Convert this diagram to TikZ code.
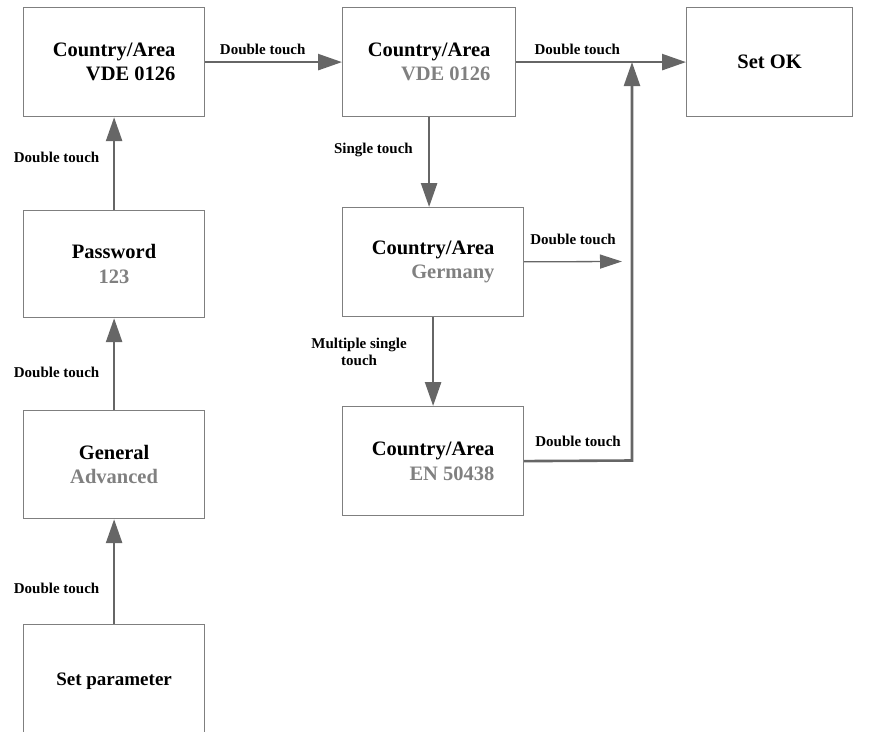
\documentclass[tikz,border=0pt]{standalone}
\usepackage{fontspec}
\setmainfont{Liberation Serif}[BoldFont={Liberation Serif Bold}]
\usepackage{xcolor}
\definecolor{cLine}{HTML}{666666}
\definecolor{cFrame}{HTML}{7F7F7F}
\definecolor{cValue}{HTML}{808080}
\usepackage{tikz}
\usetikzlibrary{positioning,arrows.meta}
\tikzset{
  node-box/.style={draw=cFrame,line width=1.2pt,minimum width=181pt,
    minimum height=109pt,inner sep=0pt,anchor=north west,
    font=\fontsize{20.5}{24.5}\selectfont\bfseries},
  node-label/.style={font=\fontsize{15}{17}\selectfont\bfseries,inner sep=1pt},
  arrow/.style={-{Triangle[length=24pt,width=16pt]},line width=2.6pt,draw=cLine},
  arrow-thin/.style={-{Triangle[length=22pt,width=14pt]},line width=1.3pt,draw=cLine},
}
\newcommand{\valtext}[1]{\textcolor{cValue}{#1}}

\begin{document}
\begin{tikzpicture}[x=1pt,y=-1pt]
  \useasboundingbox (0,0) rectangle (875,731);
  % left column
  \node[node-box,align=right] (vdeA) at (23,7) {Country/Area\\VDE 0126};
  \node[node-box,align=center,minimum height=107pt] (pass) at (23,210) {Password\\\valtext{123}};
  \node[node-box,align=center,minimum height=108pt] (general) at (23,410) {General\\\valtext{Advanced}};
  \node[node-box,minimum height=114pt,font=\fontsize{19}{23}\selectfont\bfseries] (setpar) at (23,624) {Set parameter};
  % middle column
  \node[node-box,align=right,minimum width=173pt] (vdeB) at (342,7) {Country/Area\\\valtext{VDE 0126}};
  \node[node-box,align=right] (germany) at (342,207) {Country/Area\\\valtext{Germany}};
  \node[node-box,align=right] (enA) at (342,406) {Country/Area\\\valtext{EN 50438}};
  \node[node-box,minimum width=166pt] (setok) at (686,7) {Set OK};
  \coordinate (jD) at (622,261.5);
  \coordinate (jE) at (632,460.5);

  \draw[arrow] (setpar) -- node[node-label,left=12.5pt,pos=0.34]{Double touch} (general);
  \draw[arrow] (general) -- node[node-label,left=12.5pt,pos=0.41]{Double touch} (pass);
  \draw[arrow] (pass) -- node[node-label,left=12.5pt,pos=0.57]{Double touch} (vdeA);
  \draw[arrow] (vdeA) -- node[node-label,above=5pt,pos=0.42]{Double touch} (vdeB);
  \draw[arrow] (vdeB) -- node[node-label,above=5pt,pos=0.36]{Double touch} (setok);
  \draw[arrow] (vdeB) -- node[node-label,left=14pt,pos=0.37]{Single touch} (vdeB |- germany.north);
  \draw[arrow] (germany) -- node[node-label,left=24pt,pos=0.39,align=center]{Multiple single\\touch} (enA);
  \draw[arrow-thin] (germany) -- node[node-label,above=15pt]{Double touch} (jD);
  \draw[arrow] (enA.east) -- node[node-label,above=12pt]{Double touch} (jE) -- (jE |- vdeB);
\end{tikzpicture}
\end{document}
